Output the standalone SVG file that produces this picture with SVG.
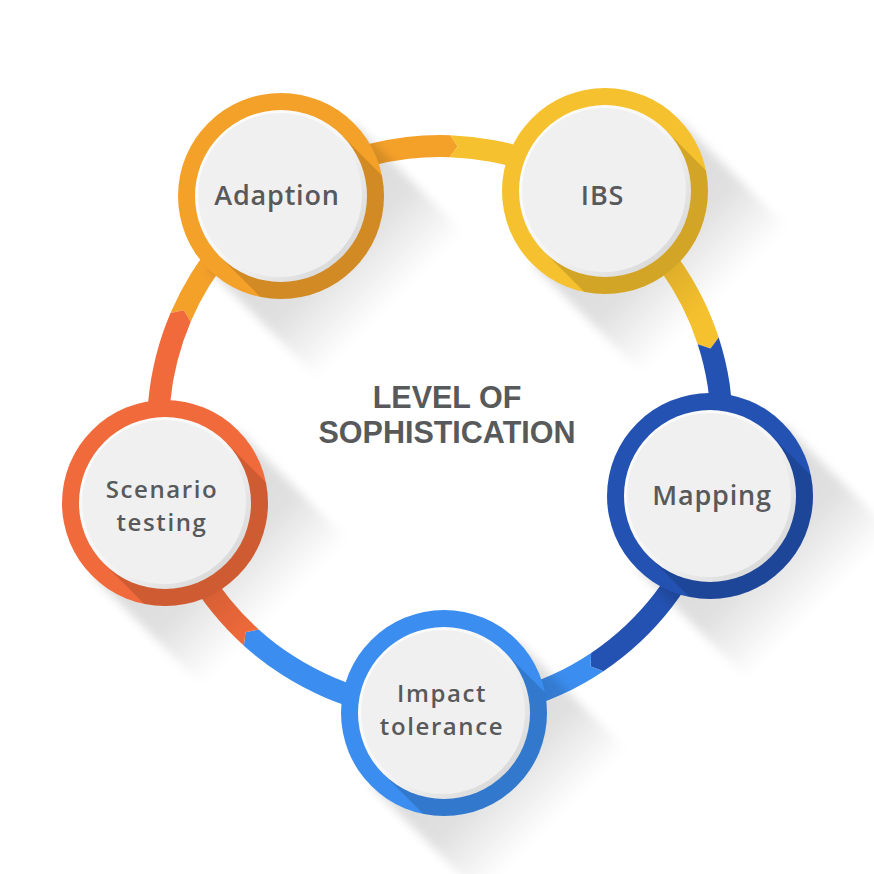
<svg xmlns="http://www.w3.org/2000/svg" width="874" height="874" viewBox="0 0 874 874">
  <style>
    .lbl { font-family: 'Open Sans', 'Liberation Sans', sans-serif; font-weight: 600; font-size: 27px; letter-spacing: 0.8px; fill: #58595b; text-anchor: middle; }
    .lbl2 { font-family: 'Open Sans', 'Liberation Sans', sans-serif; font-weight: 600; font-size: 24px; letter-spacing: 1.6px; fill: #58595b; text-anchor: middle; }
    .title { font-family: 'Liberation Sans', Arial, sans-serif; font-weight: 700; font-size: 30.5px; fill: #58595b; text-anchor: middle; }
    .gshadow { fill: url(#gShadowGrad); filter: url(#soft); }
    .ishadow { fill: #000; opacity: 0.14; clip-path: url(#ringClip); }
    .disc { fill: url(#discGrad); }
    .face { fill: #f0f0f0; }
  </style>
  <defs>
    <linearGradient id="gShadowGrad" gradientUnits="userSpaceOnUse" x1="0" y1="0" x2="110" y2="110">
      <stop offset="0" stop-color="#000" stop-opacity="0.15"/>
      <stop offset="0.55" stop-color="#000" stop-opacity="0.12"/>
      <stop offset="1" stop-color="#000" stop-opacity="0"/>
    </linearGradient>
    <linearGradient id="discGrad" x1="0" y1="0" x2="1" y2="1">
      <stop offset="0" stop-color="#ffffff"/>
      <stop offset="0.5" stop-color="#f6f6f6"/>
      <stop offset="1" stop-color="#cfcfcf"/>
    </linearGradient>
    <clipPath id="ringClip" clipPathUnits="userSpaceOnUse">
      <circle cx="0" cy="0" r="103"/>
    </clipPath>
    <filter id="soft" x="-30%" y="-30%" width="160%" height="160%">
      <feGaussianBlur stdDeviation="5"/>
    </filter>
    <path id="outerShadow" d="M72.8,-72.8 L182.8,37.2 L37.2,182.8 L-72.8,72.8 Z"/>
    <path id="innerShadow" d="M60.8,-60.8 L210,88.4 L88.4,210 L-60.8,60.8 Z"/>
  </defs>

  <rect width="874" height="874" fill="#ffffff"/>

  <g id="connectors">
    <path fill="#F4A12A" d="M170.5,313.1 A293,293 0 0 1 450.2,135.2 L457.7,146.6 L449.5,157.2 A271,271 0 0 0 190.7,321.7 L183.8,310.2 Z"/>
    <path fill="#F6C12E" d="M450.2,135.2 A293,293 0 0 1 718.7,337.5 L710.5,348.4 L697.7,344.3 A271,271 0 0 0 449.5,157.2 L457.7,146.6 Z"/>
    <path fill="#2452B2" d="M718.7,337.5 A293,293 0 0 1 603.4,671.2 L590.7,666.4 L591.1,652.9 A271,271 0 0 0 697.7,344.3 L710.5,348.4 Z"/>
    <path fill="#3B8DEF" d="M603.4,671.2 A293,293 0 0 1 243.9,645.7 L245.5,632.2 L258.7,629.4 A271,271 0 0 0 591.1,652.9 L590.7,666.4 Z"/>
    <path fill="#F06A3B" d="M243.9,645.7 A293,293 0 0 1 170.5,313.1 L183.8,310.2 L190.7,321.7 A271,271 0 0 0 258.7,629.4 L245.5,632.2 Z"/>
  </g>

  <g id="node-adaption" transform="translate(281,196)">
    <use href="#outerShadow" class="gshadow"/>
    <circle r="103" fill="#F4A12A"/>
    <use href="#innerShadow" class="ishadow"/>
    <circle r="86" class="disc"/>
    <circle cx="-1" cy="-1" r="82" class="face"/>
    <text class="lbl" x="-4" y="9">Adaption</text>
  </g>

  <g id="node-ibs" transform="translate(605,191)">
    <use href="#outerShadow" class="gshadow"/>
    <circle r="103" fill="#F6C12E"/>
    <use href="#innerShadow" class="ishadow"/>
    <circle r="86" class="disc"/>
    <circle cx="-1" cy="-1" r="82" class="face"/>
    <text class="lbl" x="-2.5" y="14">IBS</text>
  </g>

  <g id="node-mapping" transform="translate(710,496)">
    <use href="#outerShadow" class="gshadow"/>
    <circle r="103" fill="#2452B2"/>
    <use href="#innerShadow" class="ishadow"/>
    <circle r="86" class="disc"/>
    <circle cx="-1" cy="-1" r="82" class="face"/>
    <text class="lbl" x="2" y="9">Mapping</text>
  </g>

  <g id="node-impact" transform="translate(444,713)">
    <use href="#outerShadow" class="gshadow"/>
    <circle r="103" fill="#3B8DEF"/>
    <use href="#innerShadow" class="ishadow"/>
    <circle r="86" class="disc"/>
    <circle cx="-1" cy="-1" r="82" class="face"/>
    <text class="lbl2" x="-2" y="-11">Impact</text>
    <text class="lbl2" x="-2" y="22">tolerance</text>
  </g>

  <g id="node-scenario" transform="translate(165,503)">
    <use href="#outerShadow" class="gshadow"/>
    <circle r="103" fill="#F06A3B"/>
    <use href="#innerShadow" class="ishadow"/>
    <circle r="86" class="disc"/>
    <circle cx="-1" cy="-1" r="82" class="face"/>
    <text class="lbl2" x="-3" y="-5">Scenario</text>
    <text class="lbl2" x="-3" y="28">testing</text>
  </g>

  <g id="title">
    <text class="title" x="447" y="408">LEVEL OF</text>
    <text class="title" x="447" y="443">SOPHISTICATION</text>
  </g>
</svg>
